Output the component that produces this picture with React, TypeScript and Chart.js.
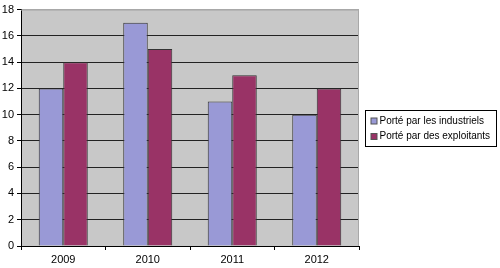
import React, { useEffect, useRef } from "react";
import { Chart, registerables } from "chart.js";

Chart.register(...registerables);

const categories = ["2009", "2010", "2011", "2012"];
const industriels = [12, 17, 11, 10];
const exploitants = [14, 15, 13, 12];
const seriesNames = ["Porté par les industriels", "Porté par des exploitants"];
const seriesColors = ["#9999D6", "#993366"];

const FONT = "'Liberation Sans', Arial, sans-serif";

const plotBg = {
  id: "plotBg",
  beforeDraw(chart: any) {
    const { ctx, chartArea: a } = chart;
    ctx.save();
    ctx.fillStyle = "#C8C8C8";
    ctx.fillRect(a.left, a.top, a.right - a.left, a.bottom - a.top);
    ctx.restore();
  },
  afterDatasetsDraw(chart: any) {
    const { ctx, chartArea: a } = chart;
    ctx.save();
    ctx.strokeStyle = "#A8A8A8";
    ctx.lineWidth = 1;
    ctx.beginPath();
    ctx.moveTo(a.left, a.top + 0.5);
    ctx.lineTo(a.right - 0.5, a.top + 0.5);
    ctx.lineTo(a.right - 0.5, a.bottom);
    ctx.stroke();
    ctx.restore();
  },
};

const boxLegend = {
  id: "boxLegend",
  afterDraw(chart: any) {
    const { ctx } = chart;
    const x = 365.5, y = 110.5, w = 131, h = 36;
    ctx.save();
    ctx.fillStyle = "#FFFFFF";
    ctx.fillRect(x, y, w, h);
    ctx.strokeStyle = "#000000";
    ctx.lineWidth = 1;
    ctx.strokeRect(x, y, w, h);
    ctx.font = `10px ${FONT}`;
    ctx.textBaseline = "middle";
    seriesNames.forEach((name, i) => {
      const cy = y + 10.5 + i * 15.5;
      ctx.fillStyle = seriesColors[i];
      ctx.fillRect(x + 5.5, cy - 3, 6, 6);
      ctx.strokeStyle = "#555";
      ctx.strokeRect(x + 5.5, cy - 3, 6, 6);
      ctx.fillStyle = "#000";
      ctx.fillText(name, x + 14, cy);
    });
    ctx.restore();
  },
};

export default function App() {
  const ref = useRef<HTMLCanvasElement>(null);
  useEffect(() => {
    const chart = new Chart(ref.current!, {
      type: "bar",
      data: {
        labels: categories,
        datasets: [
          {
            label: seriesNames[0],
            data: industriels,
            backgroundColor: seriesColors[0],
            borderColor: "#333333",
            borderWidth: 1,
          },
          {
            label: seriesNames[1],
            data: exploitants,
            backgroundColor: seriesColors[1],
            borderColor: "#333333",
            borderWidth: 1,
          },
        ],
      },
      options: {
        animation: false,
        responsive: false,
        maintainAspectRatio: false,
        layout: { padding: { left: 0, top: 9, right: 141, bottom: 0 } },
        plugins: { legend: { display: false }, tooltip: { enabled: false } },
        datasets: { bar: { categoryPercentage: 0.58, barPercentage: 1 } },
        scales: {
          x: {
            afterFit: (s: any) => { s.height = 22; },
            grid: {
              offset: true,
              drawOnChartArea: false,
              drawTicks: true,
              tickLength: 4,
              color: "#000",
            },
            border: { color: "#000", width: 1 },
            ticks: { color: "#000", font: { family: FONT, size: 11 }, padding: 3 },
          },
          y: {
            min: 0,
            max: 18,
            afterFit: (s: any) => { s.width = 21; },
            grid: {
              color: (c: any) => (c.tick && c.tick.value === 18 ? "#A8A8A8" : "#222"),
              drawTicks: true,
              tickLength: 4,
              tickColor: "#000",
            },
            border: { color: "#000", width: 1 },
            ticks: { stepSize: 2, color: "#000", font: { family: FONT, size: 11 }, padding: 3 },
          },
        },
      },
      plugins: [plotBg, boxLegend],
    });
    return () => chart.destroy();
  }, []);
  return (
    <div style={{ position: "absolute", left: 0, top: 0, width: 500, height: 268, background: "#fff" }}>
      <canvas ref={ref} width={500} height={268} style={{ width: 500, height: 268 }} />
    </div>
  );
}
